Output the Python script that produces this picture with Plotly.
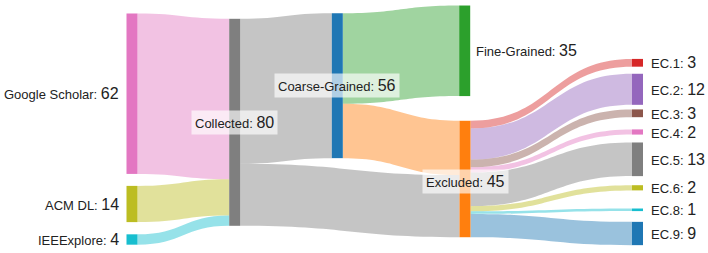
import plotly.graph_objects as go

# ---- data ----
node_names = ["Google Scholar", "ACM DL", "IEEExplore", "Collected", "Coarse-Grained",
              "Fine-Grained", "Excluded", "EC.1", "EC.2", "EC.3", "EC.4", "EC.5",
              "EC.6", "EC.8", "EC.9"]
node_values = [62, 14, 4, 80, 56, 35, 45, 3, 12, 3, 2, 13, 2, 1, 9]
link_source = ["Google Scholar", "ACM DL", "IEEExplore", "Collected", "Collected",
               "Coarse-Grained", "Coarse-Grained", "Excluded", "Excluded", "Excluded",
               "Excluded", "Excluded", "Excluded", "Excluded", "Excluded"]
link_target = ["Collected", "Collected", "Collected", "Coarse-Grained", "Excluded",
               "Fine-Grained", "Excluded", "EC.1", "EC.2", "EC.3", "EC.4", "EC.5",
               "EC.6", "EC.8", "EC.9"]
link_values = [62, 14, 4, 56, 24, 35, 21, 3, 12, 3, 2, 13, 2, 1, 9]

# ---- style / layout ----
W, Hpage = 708, 253
Tm, Bm = 4, 14
H = Hpage - Tm - Bm
node_colors = ["#e377c2", "#bcbd22", "#17becf", "#7f7f7f", "#1f77b4", "#2ca02c", "#ff7f0e",
               "#d62728", "#9467bd", "#8c564b", "#e377c2", "#7f7f7f", "#bcbd22", "#17becf",
               "#1f77b4"]
# node centre positions (pixels) used for the fixed arrangement
node_px = [132, 132, 132, 234.7, 337.3, 464.7, 465, 637.5, 637.5, 637.5, 637.5, 637.5,
           637.5, 637.5, 637.5]
node_py = [93.7, 204, 239.5, 122.3, 85.7, 50.8, 179, 62.8, 89.3, 113.3, 132, 159.3,
           187.8, 209.8, 233.5]
label_side = ["left", "left", "left", "mid", "mid", "right", "mid"] + ["right"] * 8
label_gap = {"Fine-Grained": 4}
thick = 11

idx = {n: i for i, n in enumerate(node_names)}


def rgba(hexc, a):
    h = hexc.lstrip("#")
    return "rgba(%d,%d,%d,%.2f)" % (int(h[0:2], 16), int(h[2:4], 16), int(h[4:6], 16), a)


link_color_node = []
for s, t in zip(link_source, link_target):
    if s in ("Coarse-Grained", "Excluded"):
        link_color_node.append(t)
    else:
        link_color_node.append(s)
link_colors = [rgba(node_colors[idx[n]], 0.45) for n in link_color_node]

fig = go.Figure(go.Sankey(
    arrangement="fixed",
    domain=dict(x=[0, 1], y=[0, 1]),
    node=dict(
        label=["" for _ in node_names],
        color=node_colors,
        thickness=thick,
        pad=14,
        align="left",
        line=dict(width=0),
        x=[px / W for px in node_px],
        y=[(py - Tm) / H for py in node_py],
    ),
    link=dict(
        source=[idx[s] for s in link_source],
        target=[idx[t] for t in link_target],
        value=link_values,
        color=link_colors,
        line=dict(width=0),
    ),
    hoverinfo="none",
))

mid_dy = {"Excluded": 2.5}
for i, name in enumerate(node_names):
    txt = "%s: <span style='font-size:16px'>%d</span>" % (name, node_values[i])
    ypaper = 1 - (node_py[i] + mid_dy.get(name, 0) - Tm) / H
    side = label_side[i]
    gap = label_gap.get(name, 6)
    if side == "left":
        fig.add_annotation(x=(node_px[i] - thick / 2 - gap) / W, y=ypaper, xref="paper", yref="paper",
                           text=txt, showarrow=False, xanchor="right", yanchor="middle")
    elif side == "right":
        fig.add_annotation(x=(node_px[i] + thick / 2 + gap) / W, y=ypaper, xref="paper", yref="paper",
                           text=txt, showarrow=False, xanchor="left", yanchor="middle")
    else:
        fig.add_annotation(x=node_px[i] / W, y=ypaper, xref="paper", yref="paper",
                           text=txt, showarrow=False, xanchor="center", yanchor="middle",
                           bgcolor="rgba(255,255,255,0.65)", borderpad=3)

fig.update_layout(
    width=W, height=Hpage,
    margin=dict(l=0, r=0, t=Tm, b=Bm),
    paper_bgcolor="white",
    font=dict(family="Liberation Sans, Arial, sans-serif", size=13, color="#222"),
)

fig.write_html("out.html")
